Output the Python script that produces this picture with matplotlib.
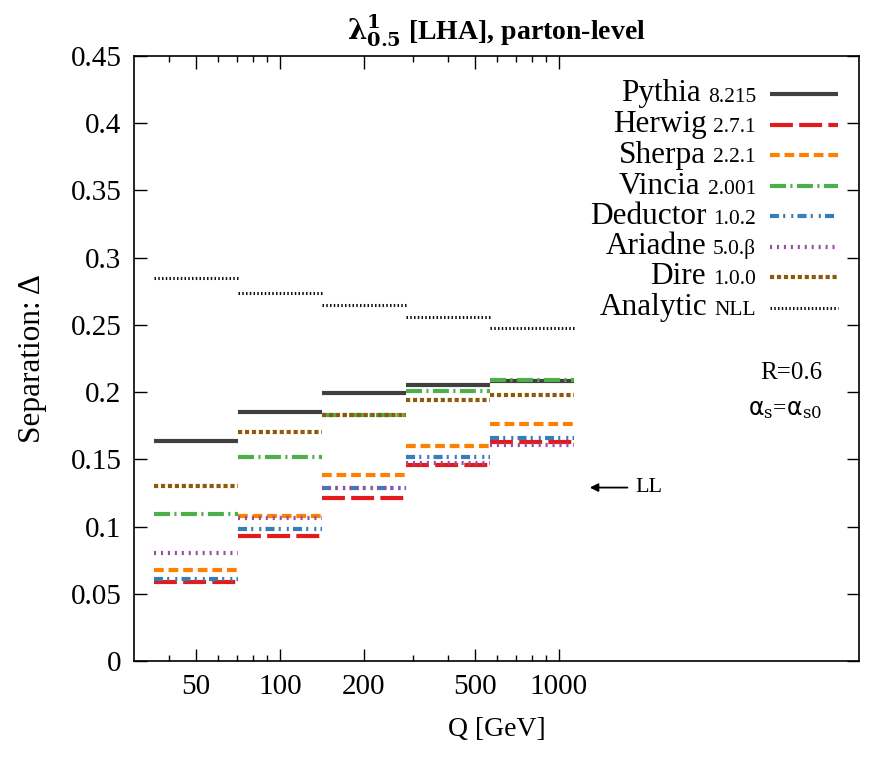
import matplotlib.pyplot as plt
import numpy as np
from matplotlib.lines import Line2D
from matplotlib.offsetbox import TextArea, HPacker, AnnotationBbox
from matplotlib.ticker import FixedLocator, NullFormatter

plt.rcParams['font.family'] = ['Liberation Serif', 'DejaVu Serif']
plt.rcParams['mathtext.fontset'] = 'dejavuserif'
plt.rcParams['lines.scale_dashes'] = False

# Q bin edges [GeV]
edges = [35.4, 70.7, 141.4, 282.8, 565.7, 1131.4]

pythia   = [0.164, 0.185, 0.199, 0.205, 0.208]
herwig   = [0.059, 0.093, 0.121, 0.146, 0.163]
sherpa   = [0.068, 0.108, 0.138, 0.160, 0.176]
vincia   = [0.109, 0.152, 0.183, 0.201, 0.209]
deductor = [0.061, 0.098, 0.129, 0.152, 0.166]
ariadne  = [0.080, 0.106, 0.129, 0.147, 0.161]
dire     = [0.130, 0.170, 0.183, 0.194, 0.198]
analytic = [0.285, 0.274, 0.265, 0.256, 0.248]

names    = ['Pythia', 'Herwig', 'Sherpa', 'Vincia', 'Deductor', 'Ariadne', 'Dire', 'Analytic']
versions = ['8.215', '2.7.1', '2.2.1', '2.001', '1.0.2', '5.0.β', '1.0.0', 'NLL']
series   = [pythia, herwig, sherpa, vincia, deductor, ariadne, dire, analytic]

colors = ['#404040', '#e41a1c', '#ff7f00', '#4daf4a', '#377eb8', '#984ea3', '#8c5a0a', '#111111']
styles = ['solid',
          (0, (16.5, 4.5)),
          (0, (7.0, 3.5)),
          (0, (11.5, 3.2, 1.5, 3.2)),
          (0, (6.5, 3.0, 1.5, 4.3, 1.5, 3.0)),
          (0, (1.5, 3.5)),
          (0, (3.0, 2.0)),
          (0, (1.1, 1.6))]
widths = [3.0, 3.0, 3.0, 3.0, 3.0, 3.0, 3.0, 2.2]

fig = plt.figure(figsize=(8.86, 7.67), dpi=100)
ax = fig.add_axes([134/886, 1-661/767, 725/886, 605/767])

lo = np.array(edges[:-1])
hi = np.array(edges[1:])
for vals, c, ls, lw in zip(series, colors, styles, widths):
    lc = ax.hlines(vals, lo, hi, colors=c, linestyles=ls, linewidths=lw)
    lc.set_capstyle('butt')

ax.set_xscale('log')
ax.set_xlim(30, 11900)
ax.set_ylim(0, 0.45)

ax.xaxis.set_major_locator(FixedLocator([50, 100, 200, 500, 1000]))
ax.xaxis.set_minor_locator(FixedLocator([40, 60, 70, 80, 90, 300, 400, 600, 700, 800, 900]))
ax.xaxis.set_minor_formatter(NullFormatter())
ax.set_xticklabels(['50', '100', '200', '500', '1000'])
yt = [0, 0.05, 0.1, 0.15, 0.2, 0.25, 0.3, 0.35, 0.4, 0.45]
ax.set_yticks(yt)
ax.set_yticklabels(['0', '0.05', '0.1', '0.15', '0.2', '0.25', '0.3', '0.35', '0.4', '0.45'])
ax.tick_params(which='both', direction='in', top=True, right=True, labelsize=21, width=1.0)
ax.tick_params(which='major', length=9, pad=9)
ax.tick_params(which='minor', length=4.5)
for s in ax.spines.values():
    s.set_linewidth(1.2)

ax.set_xlabel('Q [GeV]', fontsize=20)
ax.xaxis.set_label_coords(0.5, -0.093)
ax.set_ylabel('Separation: Δ', fontsize=22.5)
ax.yaxis.set_label_coords(-0.12, 0.5)

fig.text(496/886, 1-31/767, r'$\boldsymbol{\lambda}^{\mathbf{1}}_{\mathbf{0.5}}$ [LHA], parton-level',
         ha='center', va='center', fontsize=20, fontweight='bold')

# legend, drawn by hand (names large, versions small)
row_y = [94, 124.5, 155, 186, 216, 246.5, 277, 307.5]
for name, ver, c, ls, lw, y in zip(names, versions, colors, styles, widths, row_y):
    box = HPacker(children=[TextArea(name, textprops=dict(fontsize=22.5)),
                            TextArea(ver, textprops=dict(fontsize=15.5))],
                  align='baseline', pad=0, sep=5)
    ab = AnnotationBbox(box, (756, 767 - y), xycoords='figure pixels',
                        box_alignment=(1, 0.5), frameon=False)
    fig.add_artist(ab)
    ln = Line2D([770/886, 838/886], [1 - y/767, 1 - y/767], transform=fig.transFigure,
                color=c, linestyle=ls, linewidth=lw, solid_capstyle='butt', dash_capstyle='butt')
    fig.add_artist(ln)

fig.text(822/886, 1-373/767, 'R=0.6', ha='right', va='center', fontsize=18)
fig.text(822/886, 1-410/767, r'$\mathsf{\alpha}_{\mathrm{s}}$=$\mathsf{\alpha}_{\mathrm{s0}}$',
         ha='right', va='center', fontsize=17)

ax.annotate('', xy=(1290, 0.129), xytext=(1760, 0.129),
            arrowprops=dict(arrowstyle='-|>', color='black', lw=1.3, mutation_scale=12,
                            shrinkA=0, shrinkB=0))
ax.text(1880, 0.129, 'LL', ha='left', va='center', fontsize=16)

plt.savefig('out.png', dpi=100)
